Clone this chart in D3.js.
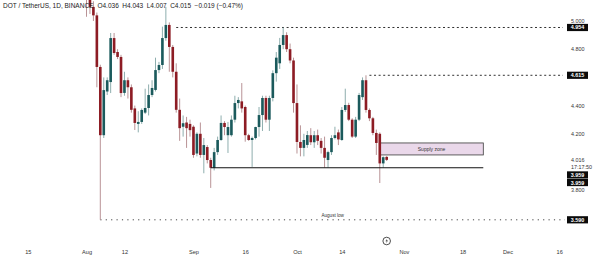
<!DOCTYPE html>
<html>
<head>
<meta charset="utf-8">
<script src="https://cdn.jsdelivr.net/npm/d3@7/dist/d3.min.js"></script>
<style>
  html, body { margin: 0; padding: 0; background: #fff; }
  svg { display: block; font-family: "Liberation Sans", Arial, sans-serif; }
</style>
</head>
<body>
<svg id="chart" width="600" height="263"></svg>
<script>
// DOT / USDT daily candles, one per day from Aug 1 2024
const firstDay = '2024-08-01';
const opens = [5.30, 5.22, 5.10, 5.04, 4.674, 4.19, 4.50, 4.567, 4.879, 4.78,
  4.745, 4.49, 4.58, 4.53, 4.38, 4.27, 4.284, 4.35, 4.383, 4.475,
  4.511, 4.652, 4.688, 4.879, 4.972, 4.816, 4.64, 4.37, 4.25, 4.28,
  4.27, 4.25, 4.06, 4.20, 4.05, 4.106, 4.014, 3.959, 4.07, 4.156,
  4.277, 4.19, 4.19, 4.30, 4.418, 4.43, 4.39, 4.19, 4.156, 4.17,
  4.248, 4.333, 4.454, 4.30, 4.454, 4.63, 4.70, 4.83, 4.90, 4.80,
  4.72, 4.418, 4.142, 4.10, 4.121, 4.19, 4.14, 4.19, 4.15, 4.10,
  4.014, 4.07, 4.17, 4.21, 4.156, 4.369, 4.404, 4.30, 4.18, 4.30,
  4.46, 4.58, 4.369, 4.31, 4.206, 4.20, 3.99, 4.036];
const highs = [5.35, 5.25, 5.14, 5.06, 4.69, 4.60, 4.60, 4.915, 4.915, 4.80,
  4.76, 4.64, 4.60, 4.55, 4.40, 4.36, 4.38, 4.52, 4.55, 4.58,
  4.74, 4.71, 4.96, 5.10, 4.99, 4.83, 4.70, 4.45, 4.33, 4.32,
  4.30, 4.26, 4.21, 4.28, 4.17, 4.12, 4.03, 4.10, 4.18, 4.33,
  4.29, 4.284, 4.33, 4.47, 4.46, 4.56, 4.40, 4.20, 4.18, 4.25,
  4.39, 4.47, 4.47, 4.47, 4.65, 4.78, 4.88, 4.954, 4.92, 4.84,
  4.74, 4.55, 4.26, 4.20, 4.22, 4.24, 4.22, 4.23, 4.17, 4.18,
  4.08, 4.19, 4.25, 4.23, 4.39, 4.52, 4.42, 4.31, 4.32, 4.49,
  4.60, 4.615, 4.38, 4.32, 4.23, 4.21, 4.04, 4.043];
const lows = [5.03, 5.05, 5.00, 4.53, 3.59, 4.17, 4.475, 4.489, 4.76, 4.73,
  4.46, 4.47, 4.45, 4.35, 4.227, 4.21, 4.27, 4.34, 4.33, 4.46,
  4.50, 4.63, 4.66, 4.86, 4.64, 4.60, 4.35, 4.15, 4.18, 4.10,
  4.18, 4.03, 4.04, 4.03, 3.92, 3.99, 3.816, 3.94, 4.05, 4.15,
  4.19, 4.064, 4.18, 4.28, 4.38, 4.35, 4.144, 4.15, 3.965, 4.16,
  4.18, 4.22, 4.28, 4.22, 4.43, 4.57, 4.66, 4.80, 4.78, 4.70,
  4.35, 4.06, 4.04, 4.04, 4.10, 4.12, 4.10, 4.12, 4.06, 3.96,
  3.96, 4.05, 4.16, 4.12, 4.15, 4.355, 4.29, 4.17, 4.17, 4.29,
  4.44, 4.35, 4.29, 4.19, 4.05, 3.851, 3.96, 4.007];
const closes = [5.22, 5.10, 5.04, 4.674, 4.19, 4.51, 4.58, 4.879, 4.773, 4.745,
  4.489, 4.58, 4.53, 4.37, 4.277, 4.284, 4.369, 4.383, 4.475, 4.525,
  4.652, 4.688, 4.879, 4.972, 4.816, 4.64, 4.37, 4.24, 4.275, 4.24,
  4.226, 4.05, 4.20, 4.05, 4.12, 4.014, 3.959, 4.07, 4.156, 4.277,
  4.248, 4.248, 4.30, 4.418, 4.44, 4.38, 4.19, 4.156, 4.17, 4.248,
  4.333, 4.454, 4.30, 4.454, 4.63, 4.74, 4.83, 4.90, 4.80, 4.72,
  4.418, 4.142, 4.10, 4.156, 4.191, 4.14, 4.19, 4.15, 4.10, 4.03,
  4.07, 4.17, 4.19, 4.16, 4.369, 4.404, 4.30, 4.18, 4.30, 4.475,
  4.58, 4.369, 4.31, 4.206, 4.135, 3.99, 4.034, 4.015];

// time axis
const tickDates = ['2024-07-15', '2024-08-01', '2024-08-12', '2024-09-01', '2024-09-16', '2024-10-01',
  '2024-10-14', '2024-11-01', '2024-11-18', '2024-12-01', '2024-12-16'];
const tickLabels = ['15', 'Aug', '12', 'Sep', '16', 'Oct', '14', 'Nov', '18', 'Dec', '16'];

// price axis
const priceTicks = [5.0, 4.8, 4.4, 4.2, 3.8];

// drawn levels
const highLevels = [
  { price: 4.954, from: '2024-08-27' },
  { price: 4.615, from: '2024-10-22' }
];
const supportLevel = { price: 3.959, from: '2024-09-06', to: '2024-11-24' };
const augustLow = { price: 3.590, from: '2024-08-05', label: 'August low' };
const supplyZone = { top: 4.135, bottom: 4.05, from: '2024-10-25', to: '2024-11-24', label: 'Supply zone' };
const countdown = '17:17:50';

const parse = d3.utcParse('%Y-%m-%d');
const fmt = d3.format('.3f');

const candles = closes.map(function (c, i) {
  return {
    date: d3.utcDay.offset(parse(firstDay), i),
    open: opens[i], high: highs[i], low: lows[i], close: c
  };
});

const sizes = { width: 600, height: 263, plotRight: 565, axisX: 569 };
const colors = {
  up: '#1b5a5c', down: '#8d1c24',
  upWick: '#8eaeae', downWick: '#b99396',
  text: '#333', line: '#1a1a1a'
};

const svg = d3.select('#chart');

const x = d3.scaleUtc()
  .domain([parse('2024-07-15'), parse('2024-12-16')])
  .range([27.85, 559.2]);

const y = d3.scaleLinear()
  .domain([3.59, 5.0])
  .range([219.8, 21]);

const dayWidth = x(parse('2024-08-02')) - x(parse('2024-08-01'));
const bodyWidth = dayWidth * 0.76;

const plot = svg.append('g').attr('class', 'plot');

// Level lines go under the candles
highLevels.forEach(function (lvl) {
  plot.append('line')
    .attr('x1', x(parse(lvl.from))).attr('x2', sizes.plotRight - 2)
    .attr('y1', y(lvl.price)).attr('y2', y(lvl.price))
    .attr('stroke', colors.line)
    .attr('stroke-width', 0.9)
    .attr('stroke-dasharray', '2,2.6');
});

plot.append('line')
  .attr('x1', x(parse(augustLow.from))).attr('x2', sizes.plotRight)
  .attr('y1', y(augustLow.price)).attr('y2', y(augustLow.price))
  .attr('stroke', '#444')
  .attr('stroke-width', 1)
  .attr('stroke-dasharray', '1.2,4.2');

plot.append('text')
  .attr('x', (x(parse(augustLow.from)) + sizes.plotRight) / 2)
  .attr('y', y(augustLow.price) - 2.5)
  .attr('text-anchor', 'middle')
  .attr('font-size', 4.6)
  .attr('fill', '#333')
  .text(augustLow.label);

// Supply zone box
plot.append('rect')
  .attr('x', x(parse(supplyZone.from)))
  .attr('y', y(supplyZone.top))
  .attr('width', x(parse(supplyZone.to)) - x(parse(supplyZone.from)))
  .attr('height', y(supplyZone.bottom) - y(supplyZone.top))
  .attr('fill', '#ead8ea')
  .attr('stroke', '#3a3a3a')
  .attr('stroke-width', 0.8);

plot.append('text')
  .attr('x', (x(parse(supplyZone.from)) + x(parse(supplyZone.to))) / 2)
  .attr('y', (y(supplyZone.top) + y(supplyZone.bottom)) / 2 + 1.8)
  .attr('text-anchor', 'middle')
  .attr('font-size', 5)
  .attr('fill', '#333')
  .text(supplyZone.label);

// Candles
const candle = plot.selectAll('g.candle')
  .data(candles)
  .join('g')
  .attr('class', 'candle');

candle.append('line')
  .attr('x1', function (d) { return x(d.date); })
  .attr('x2', function (d) { return x(d.date); })
  .attr('y1', function (d) { return y(d.high); })
  .attr('y2', function (d) { return y(d.low); })
  .attr('stroke', function (d) { return d.close >= d.open ? colors.upWick : colors.downWick; })
  .attr('stroke-width', 1);

candle.append('rect')
  .attr('x', function (d) { return x(d.date) - bodyWidth / 2; })
  .attr('y', function (d) { return y(Math.max(d.open, d.close)); })
  .attr('width', bodyWidth)
  .attr('height', function (d) { return Math.max(0.8, Math.abs(y(d.open) - y(d.close))); })
  .attr('fill', function (d) { return d.close >= d.open ? colors.up : colors.down; });

// Support line on top of candles
plot.append('line')
  .attr('x1', x(parse(supportLevel.from))).attr('x2', x(parse(supportLevel.to)))
  .attr('y1', y(supportLevel.price)).attr('y2', y(supportLevel.price))
  .attr('stroke', '#111')
  .attr('stroke-width', 1.2);

// Time axis
const xAxis = d3.axisBottom(x)
  .tickValues(tickDates.map(parse))
  .tickFormat(function (d, i) { return tickLabels[i]; })
  .tickSize(0)
  .tickPadding(0);

const gx = svg.append('g')
  .attr('transform', 'translate(0,250)')
  .call(xAxis);
gx.select('.domain').remove();
gx.selectAll('text')
  .attr('font-size', 5.6)
  .attr('font-family', '"Liberation Sans", Arial, sans-serif')
  .attr('fill', colors.text);

// Price axis
const yAxis = d3.axisRight(y)
  .tickValues(priceTicks)
  .tickFormat(fmt)
  .tickSize(0)
  .tickPadding(2);

const gy = svg.append('g')
  .attr('transform', 'translate(' + sizes.axisX + ',0)')
  .call(yAxis);
gy.select('.domain').remove();
gy.selectAll('text')
  .attr('font-size', 5.4)
  .attr('font-family', '"Liberation Sans", Arial, sans-serif')
  .attr('fill', colors.text);

// Price tags (black boxes)
function drawTag(value, cy) {
  const g = svg.append('g').attr('transform', 'translate(' + (sizes.axisX - 2) + ',' + cy + ')');
  g.append('rect')
    .attr('x', 0).attr('y', -3.6)
    .attr('width', 21).attr('height', 7.2)
    .attr('fill', '#0b0b0b');
  g.append('text')
    .attr('x', 10.5).attr('y', 2)
    .attr('text-anchor', 'middle')
    .attr('font-size', 5.4)
    .attr('font-weight', 'bold')
    .attr('fill', '#fff')
    .text(fmt(value));
}

highLevels.forEach(function (lvl) { drawTag(lvl.price, y(lvl.price)); });
drawTag(augustLow.price, y(augustLow.price));

// Stack of labels near the last price, pushed down so they do not collide
const last = candles[candles.length - 1];
const prev = candles[candles.length - 2];
const stack = [
  { kind: 'plain', text: fmt(4.016), value: 4.016 },
  { kind: 'plain', text: countdown, value: 4.016 },
  { kind: 'tag', value: supportLevel.price },
  { kind: 'tag', value: supportLevel.price }
];
let prevY = -Infinity;
stack.forEach(function (item) {
  const cy = Math.max(y(item.value), prevY + 7.6);
  prevY = cy;
  if (item.kind === 'tag') {
    drawTag(item.value, cy);
  } else {
    svg.append('text')
      .attr('x', sizes.axisX + 2)
      .attr('y', cy + 2)
      .attr('font-size', 5.4)
      .attr('fill', colors.text)
      .text(item.text);
  }
});

// Event marker below the last candle
const marker = svg.append('g')
  .attr('transform', 'translate(' + x(last.date) + ',241)');
marker.append('circle')
  .attr('r', 3.8)
  .attr('fill', '#fff')
  .attr('stroke', '#222')
  .attr('stroke-width', 0.8);
marker.append('path')
  .attr('d', 'M0.6,-2.4 L-1.2,0.3 L0.2,0.3 L-0.6,2.4 L1.2,-0.4 L-0.2,-0.4 Z')
  .attr('fill', '#222');

// Title with OHLC of the last candle
const change = last.close - prev.close;
const title = svg.append('text')
  .attr('x', 3)
  .attr('y', 8)
  .attr('font-size', 6.5)
  .attr('fill', '#222');
title.append('tspan').text('DOT / TetherUS, 1D, BINANCE');
title.append('tspan').attr('dx', 4).text('O' + fmt(last.open));
title.append('tspan').attr('dx', 3.5).text('H' + fmt(last.high));
title.append('tspan').attr('dx', 3.5).text('L' + fmt(last.low));
title.append('tspan').attr('dx', 3.5).text('C' + fmt(last.close));
title.append('tspan').attr('dx', 3.5)
  .text(fmt(change).replace('-', '\u2212') + ' (' + d3.format('.2%')(change / prev.close).replace('-', '\u2212') + ')');
</script>
</body>
</html>
